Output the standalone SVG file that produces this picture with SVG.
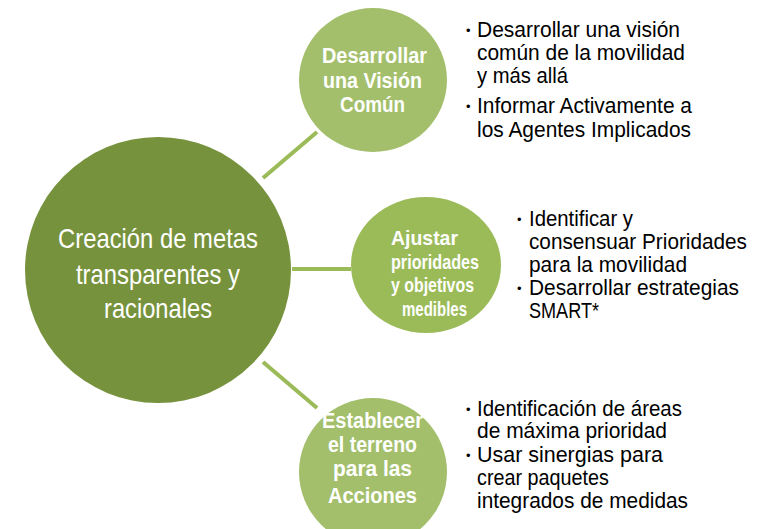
<svg xmlns="http://www.w3.org/2000/svg" width="765" height="529" viewBox="0 0 765 529">
<style>
.conn{stroke:#9bbb59;stroke-width:4;fill:none}
.big{fill:#76923c}
.sm{fill:#a3bf6b}
.main{font-family:"Liberation Sans",Arial,sans-serif;font-size:28px;fill:#fff}
.lbl{font-family:"Liberation Sans",Arial,sans-serif;font-size:22px;font-weight:bold;fill:#fff}
.lbl2{font-family:"Liberation Sans",Arial,sans-serif;font-size:21px;font-weight:bold;fill:#fff}
.bt{font-family:"Liberation Sans",Arial,sans-serif;font-size:21.5px;fill:#000}
.dot{font-family:"Liberation Sans",Arial,sans-serif;font-size:13px;fill:#000}
</style>
<rect width="765" height="529" fill="#fff"/>
<g id="connectors">
<line class="conn" x1="263" y1="178" x2="317" y2="132"/>
<line class="conn" x1="292" y1="269" x2="351" y2="269"/>
<line class="conn" x1="263" y1="362" x2="317" y2="408"/>
</g>
<g id="node-main">
<circle class="big" cx="158" cy="270" r="133"/>
<text class="main" x="58" y="248" textLength="200" lengthAdjust="spacingAndGlyphs">Creación de metas</text>
<text class="main" x="76" y="284" textLength="164" lengthAdjust="spacingAndGlyphs">transparentes y</text>
<text class="main" x="104" y="318" textLength="108" lengthAdjust="spacingAndGlyphs">racionales</text>
</g>
<g id="node-vision">
<ellipse class="sm" cx="373" cy="80" rx="74" ry="72"/>
<text class="lbl" x="322" y="63" textLength="105" lengthAdjust="spacingAndGlyphs">Desarrollar</text>
<text class="lbl" x="323" y="88" textLength="99" lengthAdjust="spacingAndGlyphs">una Visión</text>
<text class="lbl" x="340" y="112" textLength="65" lengthAdjust="spacingAndGlyphs">Común</text>
</g>
<g id="node-prioridades">
<ellipse class="sm" cx="426" cy="265" rx="75" ry="68" style="fill:#9bbb59"/>
<text class="lbl2" x="391" y="245" textLength="67" lengthAdjust="spacingAndGlyphs">Ajustar</text>
<text class="lbl2" x="391" y="268.5" textLength="88" lengthAdjust="spacingAndGlyphs">prioridades</text>
<text class="lbl2" x="391" y="292" textLength="83" lengthAdjust="spacingAndGlyphs">y objetivos</text>
<text class="lbl2" x="402" y="315.5" textLength="65" lengthAdjust="spacingAndGlyphs">medibles</text>
</g>
<g id="node-terreno">
<ellipse class="sm" cx="373" cy="472" rx="74" ry="74"/>
<text class="lbl" x="322" y="428" textLength="101" lengthAdjust="spacingAndGlyphs">Establecer</text>
<text class="lbl" x="328" y="452" textLength="89" lengthAdjust="spacingAndGlyphs">el terreno</text>
<text class="lbl" x="333" y="476" textLength="79" lengthAdjust="spacingAndGlyphs">para las</text>
<text class="lbl" x="328" y="503" textLength="89" lengthAdjust="spacingAndGlyphs">Acciones</text>
</g>
<g id="bullets-vision">
<text class="dot" x="466" y="35">•</text>
<text class="bt" x="477" y="37" textLength="203" lengthAdjust="spacingAndGlyphs">Desarrollar una visión</text>
<text class="bt" x="477" y="60" textLength="208" lengthAdjust="spacingAndGlyphs">común de la movilidad</text>
<text class="bt" x="477" y="83" textLength="91" lengthAdjust="spacingAndGlyphs">y más allá</text>
<text class="dot" x="466" y="111">•</text>
<text class="bt" x="477" y="113" textLength="215" lengthAdjust="spacingAndGlyphs">Informar Activamente a</text>
<text class="bt" x="477" y="137" textLength="214" lengthAdjust="spacingAndGlyphs">los Agentes Implicados</text>
</g>
<g id="bullets-prioridades">
<text class="dot" x="517" y="224">•</text>
<text class="bt" x="529" y="226" textLength="104" lengthAdjust="spacingAndGlyphs">Identificar y</text>
<text class="bt" x="529" y="249" textLength="218" lengthAdjust="spacingAndGlyphs">consensuar Prioridades</text>
<text class="bt" x="529" y="272" textLength="158" lengthAdjust="spacingAndGlyphs">para la movilidad</text>
<text class="dot" x="517" y="293">•</text>
<text class="bt" x="529" y="295" textLength="210" lengthAdjust="spacingAndGlyphs">Desarrollar estrategias</text>
<text class="bt" x="529" y="318" textLength="70" lengthAdjust="spacingAndGlyphs">SMART*</text>
</g>
<g id="bullets-terreno">
<text class="dot" x="466" y="414">•</text>
<text class="bt" x="477" y="416" textLength="205" lengthAdjust="spacingAndGlyphs">Identificación de áreas</text>
<text class="bt" x="477" y="438" textLength="190" lengthAdjust="spacingAndGlyphs">de máxima prioridad</text>
<text class="dot" x="466" y="460">•</text>
<text class="bt" x="477" y="462" textLength="186" lengthAdjust="spacingAndGlyphs">Usar sinergias para</text>
<text class="bt" x="477" y="485" textLength="132" lengthAdjust="spacingAndGlyphs">crear paquetes</text>
<text class="bt" x="477" y="508" textLength="211" lengthAdjust="spacingAndGlyphs">integrados de medidas</text>
</g>
</svg>
